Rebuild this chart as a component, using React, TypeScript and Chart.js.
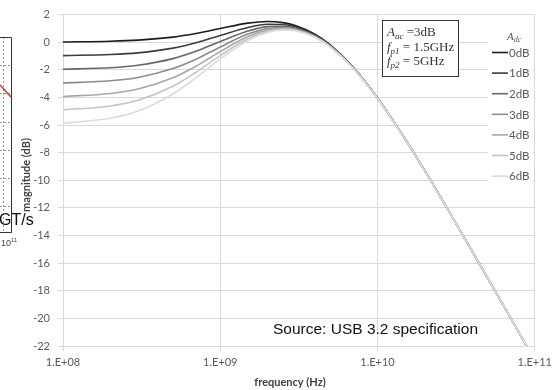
import React, { useEffect, useRef } from 'react';
import { Chart, registerables } from 'chart.js';

Chart.register(...registerables);

// ---- data ----
const freqHz = [1e8, 2e8, 3e8, 5e8, 7e8, 1e9, 1.5e9, 2e9, 2.5e9, 3e9, 4e9, 5e9, 7e9, 1e10, 1.5e10, 2e10, 3e10, 5e10, 7e10, 1e11];

const adc0dB = [0.02, 0.07, 0.15, 0.37, 0.63, 0.99, 1.38, 1.5, 1.42, 1.21, 0.58, -0.19, -1.81, -4.04, -7.02, -9.32, -12.69, -17.05, -19.95, -23.03];
const adc1dB = [-0.97, -0.89, -0.77, -0.43, -0.04, 0.49, 1.07, 1.3, 1.28, 1.11, 0.52, -0.23, -1.83, -4.05, -7.03, -9.32, -12.69, -17.05, -19.95, -23.03];
const adc2dB = [-1.96, -1.85, -1.67, -1.19, -0.66, 0.05, 0.81, 1.13, 1.16, 1.03, 0.47, -0.26, -1.85, -4.06, -7.03, -9.32, -12.69, -17.05, -19.95, -23.03];
const adc3dB = [-2.95, -2.79, -2.55, -1.91, -1.23, -0.34, 0.59, 0.99, 1.07, 0.96, 0.43, -0.29, -1.86, -4.06, -7.03, -9.33, -12.69, -17.05, -19.95, -23.03];
const adc4dB = [-3.93, -3.71, -3.39, -2.58, -1.74, -0.68, 0.41, 0.88, 1.0, 0.91, 0.4, -0.31, -1.87, -4.07, -7.04, -9.33, -12.69, -17.05, -19.95, -23.03];
const adc5dB = [-4.9, -4.62, -4.21, -3.19, -2.19, -0.97, 0.25, 0.79, 0.94, 0.87, 0.38, -0.32, -1.88, -4.07, -7.04, -9.33, -12.69, -17.05, -19.95, -23.03];
const adc6dB = [-5.87, -5.51, -4.99, -3.75, -2.58, -1.21, 0.13, 0.71, 0.89, 0.83, 0.36, -0.34, -1.88, -4.07, -7.04, -9.33, -12.69, -17.05, -19.95, -23.03];

const seriesLabels = ['0dB', '1dB', '2dB', '3dB', '4dB', '5dB', '6dB'];
const seriesColors = ['#1c1c1c', '#3c3c3c', '#686868', '#8c8c8c', '#a8a8a8', '#c4c4c4', '#dcdcdc'];

const xTickValues = [1e8, 1e9, 1e10, 1e11];
const xTickLabels = ['1.E+08', '1.E+09', '1.E+10', '1.E+11'];
const yMin = -22;
const yMax = 2;
const yStep = 2;

const xTitle = 'frequency (Hz)';
const yTitle = 'magnitude (dB)';
const sourceText = 'Source: USB 3.2 specification';
const legendTitle = { sym: 'A', sub: 'dc' };
const annotationLines = [
  { sym: 'A', sub: 'ac', rest: ' =3dB' },
  { sym: 'f', sub: 'p1', rest: ' = 1.5GHz' },
  { sym: 'f', sub: 'p2', rest: ' = 5GHz' },
];
const neighbourText = 'GT/s';
const neighbourTick = { base: '10', exp: '11' };

const SANS = 'Lato';
const SERIF = '"Liberation Serif"';

type Part = { t: string; font: string; dy: number };
function drawRich(ctx: CanvasRenderingContext2D, x: number, y: number, parts: Part[]) {
  let cx = x;
  for (const p of parts) {
    ctx.font = p.font;
    ctx.fillText(p.t, cx, y + p.dy);
    cx += ctx.measureText(p.t).width;
  }
}

const decorPlugin = {
  id: 'decor',
  afterDraw(chart: any) {
    const ctx: CanvasRenderingContext2D = chart.ctx;
    ctx.save();

    // neighbouring chart fragment at the left edge
    ctx.strokeStyle = '#999';
    ctx.lineWidth = 1;
    ctx.setLineDash([2, 2]);
    [65, 93, 122, 150, 178, 206].forEach((yy) => {
      ctx.beginPath();
      ctx.moveTo(0, yy + 0.5);
      ctx.lineTo(11, yy + 0.5);
      ctx.stroke();
    });
    ctx.beginPath();
    ctx.moveTo(3.5, 37);
    ctx.lineTo(3.5, 232);
    ctx.stroke();
    ctx.setLineDash([]);
    ctx.strokeStyle = '#333';
    ctx.beginPath();
    ctx.moveTo(0, 37.5);
    ctx.lineTo(11.5, 37.5);
    ctx.lineTo(11.5, 232.5);
    ctx.lineTo(0, 232.5);
    ctx.stroke();
    ctx.strokeStyle = '#d83030';
    ctx.lineWidth = 1.5;
    ctx.beginPath();
    ctx.moveTo(0, 85);
    ctx.lineTo(11, 97);
    ctx.stroke();

    // y axis title
    ctx.fillStyle = '#404040';
    ctx.save();
    ctx.translate(26, 175);
    ctx.rotate(-Math.PI / 2);
    ctx.font = `bold 11px ${SANS}`;
    ctx.textAlign = 'center';
    ctx.textBaseline = 'middle';
    ctx.fillText(yTitle, 0, 0);
    ctx.restore();

    ctx.fillStyle = '#111';
    ctx.textAlign = 'left';
    ctx.textBaseline = 'alphabetic';
    ctx.font = '16px "Liberation Sans"';
    ctx.fillText(neighbourText, -1, 225);
    ctx.fillStyle = '#444';
    drawRich(ctx, 1, 246, [
      { t: neighbourTick.base, font: '9px "Liberation Sans"', dy: 0 },
      { t: neighbourTick.exp, font: '6px "Liberation Sans"', dy: -4 },
    ]);

    // x axis title
    ctx.fillStyle = '#404040';
    ctx.font = `bold 11px ${SANS}`;
    ctx.textAlign = 'center';
    ctx.textBaseline = 'middle';
    ctx.fillText(xTitle, 290, 382);

    // annotation box
    ctx.fillStyle = '#fff';
    ctx.fillRect(382, 20, 76, 56);
    ctx.strokeStyle = '#333';
    ctx.lineWidth = 1;
    ctx.strokeRect(382.5, 20.5, 76, 56);
    ctx.fillStyle = '#333';
    ctx.textAlign = 'left';
    ctx.textBaseline = 'alphabetic';
    annotationLines.forEach((ln, i) => {
      drawRich(ctx, 387, 36 + i * 14.5, [
        { t: ln.sym, font: `italic 13px ${SERIF}`, dy: 0 },
        { t: ln.sub, font: `italic 9px ${SERIF}`, dy: 3 },
        { t: ln.rest, font: `13px ${SERIF}`, dy: 0 },
      ]);
    });

    // legend
    ctx.fillStyle = '#fff';
    ctx.fillRect(488, 28, 45, 158);
    ctx.fillStyle = '#595959';
    drawRich(ctx, 507, 40, [
      { t: legendTitle.sym, font: `italic 11px ${SERIF}`, dy: 0 },
      { t: legendTitle.sub, font: `italic 8px ${SERIF}`, dy: 2 },
    ]);
    seriesLabels.forEach((lab, i) => {
      const yy = 52.5 + i * 20.6;
      ctx.strokeStyle = seriesColors[i];
      ctx.lineWidth = 1.6;
      ctx.beginPath();
      ctx.moveTo(492, yy);
      ctx.lineTo(508, yy);
      ctx.stroke();
      ctx.fillStyle = '#595959';
      ctx.font = `11.5px ${SANS}`;
      ctx.textBaseline = 'middle';
      ctx.fillText(lab, 509, yy + 0.5);
    });

    // source text
    ctx.fillStyle = '#111';
    ctx.textBaseline = 'alphabetic';
    ctx.font = '15.5px "Liberation Sans"';
    ctx.fillText(sourceText, 273, 333.5);

    ctx.restore();
  },
};

export default function App() {
  const ref = useRef<HTMLCanvasElement>(null);

  useEffect(() => {
    const series = [adc0dB, adc1dB, adc2dB, adc3dB, adc4dB, adc5dB, adc6dB];
    // Chart.js paints dataset 0 last (on top); the lightest curve sits on top in the reference
    const datasets = series
      .map((s, i) => ({
        label: seriesLabels[i],
        data: freqHz.map((f, j) => ({ x: f, y: s[j] })),
        borderColor: seriesColors[i],
        backgroundColor: seriesColors[i],
        borderWidth: 1.6,
        pointRadius: 0,
        cubicInterpolationMode: 'monotone' as const,
        fill: false,
      }))
      .reverse();

    const tickFont = { family: SANS, size: 11 };
    const chart = new Chart(ref.current as HTMLCanvasElement, {
      type: 'line',
      data: { datasets },
      options: {
        animation: false,
        responsive: false,
        layout: { padding: { left: 0, top: 14, right: 20, bottom: 0 } },
        plugins: { legend: { display: false }, tooltip: { enabled: false } },
        scales: {
          x: {
            type: 'logarithmic',
            min: xTickValues[0],
            max: xTickValues[xTickValues.length - 1],
            afterBuildTicks: (s: any) => {
              s.ticks = xTickValues.map((v) => ({ value: v }));
            },
            afterFit: (s: any) => {
              s.height = 44;
            },
            ticks: {
              autoSkip: false,
              maxRotation: 0,
              padding: 5,
              color: '#595959',
              font: tickFont,
              callback: (v: any) => {
                const i = xTickValues.indexOf(Number(v));
                return i >= 0 ? xTickLabels[i] : '';
              },
            },
            grid: { color: '#d9d9d9', tickLength: 5, lineWidth: 1 },
            border: { color: '#d9d9d9' },
          },
          y: {
            type: 'linear',
            min: yMin,
            max: yMax,
            afterFit: (s: any) => {
              s.width = 63;
            },
            ticks: { stepSize: yStep, padding: 8, color: '#595959', font: tickFont },
            grid: { color: '#d9d9d9', tickLength: 5, lineWidth: 1 },
            border: { color: '#d9d9d9' },
          },
        },
      } as any,
      plugins: [decorPlugin],
    });
    return () => chart.destroy();
  }, []);

  return (
    <div style={{ position: 'absolute', left: 0, top: 0, width: 557, height: 390, background: '#fff' }}>
      <canvas ref={ref} width={557} height={390} style={{ display: 'block', width: 557, height: 390 }} />
    </div>
  );
}
